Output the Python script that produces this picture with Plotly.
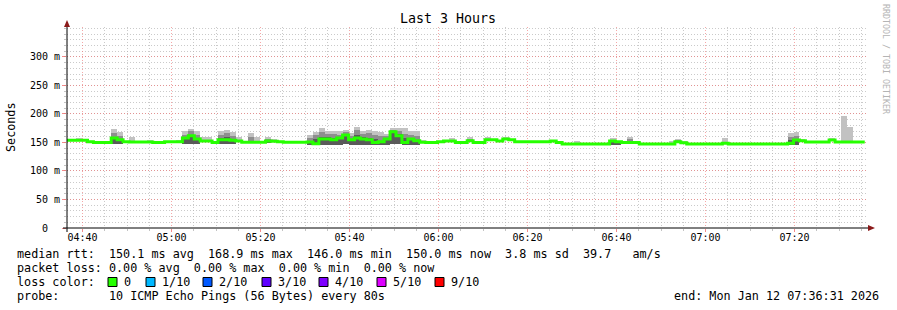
import pandas as pd
import plotly.graph_objects as go

# ---------------- data ----------------
start_time = "2026-01-12 04:36:31"
end_time = "2026-01-12 07:36:31"
step_seconds = 80

median_ms = [
    154, 154, 154, 154, 151.5, 150, 150, 150, 158, 155,
    151.5, 151, 151, 151, 151, 150, 150, 151.5, 151.5, 151.5,
    158, 162, 156, 152.6, 152.6, 150, 155, 155, 154, 152.6,
    150.3, 150.3, 150.3, 150.3, 152.6, 152, 151.5, 150.3, 150.3, 150.3,
    150.3, 151, 148, 156, 156, 155, 158, 163, 155, 158,
    156, 155, 150, 151.5, 156, 169, 162, 150, 156, 153,
    150.3, 150, 150, 151.5, 152.6, 152.6, 150, 150, 153, 150,
    150, 155, 155, 152.6, 156, 155, 151.5, 151.5, 151.5, 151.5,
    151.5, 151.5, 152.6, 150, 147.4, 147.4, 147.4, 147.4, 147.4, 147.4,
    147.4, 147.4, 152.6, 151.5, 150, 150, 150, 147.4, 147.4, 147.4,
    147.4, 147.4, 147.4, 151.5, 149.5, 147.4, 147.4, 147.4, 147.4, 147.4,
    147.4, 148.5, 147.4, 147.4, 147.4, 147.4, 147.4, 147.4, 147.4, 147.4,
    147.4, 147.4, 148.5, 154.4, 153, 151, 151, 151, 151, 154.4,
    151, 151, 151, 151, 151,
]

# light smoke top (max ping), per step index
smoke_max = {
    0: 156, 1: 157, 2: 158, 3: 156, 8: 174, 9: 168, 11: 160, 14: 155, 19: 153,
    20: 170, 21: 174, 22: 170, 23: 160, 24: 160, 26: 170, 27: 172, 28: 168,
    29: 160, 31: 167, 32: 160, 34: 160, 35: 156, 37: 152, 38: 152, 39: 152,
    40: 152, 41: 164, 42: 169, 43: 175, 44: 170, 45: 170, 46: 170, 47: 172,
    48: 166, 49: 178, 50: 170, 51: 172, 52: 170, 53: 168, 54: 165, 55: 176,
    56: 176, 57: 175, 58: 170, 59: 170, 60: 155, 64: 154, 65: 157.5, 68: 159,
    71: 159, 74: 159, 82: 154, 86: 152, 92: 158, 95: 160, 96: 153, 102: 152,
    103: 157, 104: 153, 111: 158, 122: 167, 123: 168, 124: 155, 129: 157,
    131: 197, 132: 178,
}
# medium smoke top (inner pings)
smoke_mid = {
    8: 167, 9: 162, 20: 164, 21: 170, 22: 164, 26: 164, 27: 166, 28: 162,
    31: 160, 34: 156, 41: 158, 42: 164, 43: 168, 44: 165, 45: 165, 46: 164,
    47: 168, 48: 161, 49: 172, 50: 165, 51: 166, 52: 164, 53: 162, 54: 161,
    55: 172, 56: 170, 57: 165, 58: 163, 59: 162, 65: 155, 68: 156, 74: 157.5,
    92: 155, 95: 156, 103: 155, 122: 160, 123: 162,
}
# dark smoke top (core pings)
smoke_dark = {
    8: 160, 20: 158, 21: 164, 26: 158, 27: 160, 42: 156, 43: 160, 44: 160,
    45: 158, 46: 158, 47: 164, 48: 157, 49: 164, 50: 160, 51: 158, 52: 156,
    55: 168, 56: 165, 57: 158, 58: 158, 92: 152, 122: 154, 123: 156,
}
# smoke bottom (min ping)
smoke_min = {
    8: 148, 9: 148, 20: 148, 21: 148, 22: 148, 26: 148, 27: 148, 28: 148,
    34: 149, 41: 146, 42: 145, 43: 146, 44: 146, 45: 146, 46: 146, 47: 147,
    48: 146, 49: 146, 50: 146, 51: 146, 52: 146, 53: 146, 54: 146, 55: 147,
    56: 147, 57: 146, 58: 146, 59: 146, 92: 146, 93: 146, 122: 145, 123: 146,
}

y_tick_values = [0, 50, 100, 150, 200, 250, 300]
y_tick_labels = ["0\u00a0\u00a0", "50 m", "100 m", "150 m", "200 m", "250 m", "300 m"]

title_text = "Last 3 Hours"
legend_lines = [
    "median rtt:  150.1 ms avg  168.9 ms max  146.0 ms min  150.0 ms now  3.8 ms sd  39.7   am/s",
    "packet loss: 0.00 % avg  0.00 % max  0.00 % min  0.00 % now",
    "loss color:",
    "probe:       10 ICMP Echo Pings (56 Bytes) every 80s",
]
loss_labels = ["0", "1/10", "2/10", "3/10", "4/10", "5/10", "9/10"]
loss_colors = ["#26ff00", "#00b8ff", "#0059ff", "#5e00ff", "#7e00ff", "#dd00ff", "#ff0000"]
end_text = "end: Mon Jan 12 07:36:31 2026"

# ---------------- build ----------------
MONO = "DejaVu Sans Mono"
L, R, T, B = 67, 868, 27, 228
YMAX = 352.6
TXT = 11.75

def px(x):
    return (x - L) / (R - L)

def py(y):
    return (B - y) / (B - T)

n = len(median_ms)
t0 = pd.Timestamp(start_time)
step = pd.Timedelta(seconds=step_seconds)
centers = [t0 + step * (k - 0.05) for k in range(n)]
edges = [c - step / 2 for c in centers] + [centers[-1] + step / 2]

hi = [smoke_max.get(k, median_ms[k]) for k in range(n)]
mid = [smoke_mid.get(k, median_ms[k]) for k in range(n)]
dark = [smoke_dark.get(k, median_ms[k]) for k in range(n)]
lo = [min(smoke_min.get(k, median_ms[k]), median_ms[k]) for k in range(n)]

fig = go.Figure()
for top, colr in ((hi, "#c2c2c2"), (mid, "#8e8e8e"), (dark, "#5a5a5a")):
    fig.add_trace(go.Bar(x=centers, y=[a - b for a, b in zip(top, lo)], base=lo,
                         width=step_seconds * 1000,
                         marker=dict(color=colr, line=dict(width=0)), hoverinfo="skip"))
fig.add_trace(go.Scatter(x=edges, y=median_ms + [median_ms[-1]], mode="lines",
                         line=dict(color="#26ff00", width=3, shape="hv"), hoverinfo="skip"))

fig.update_layout(
    width=897, height=310,
    margin=dict(l=L, r=897 - R, t=T, b=310 - B, pad=0),
    plot_bgcolor="white", paper_bgcolor="white",
    showlegend=False, barmode="overlay", bargap=0,
    font=dict(family=MONO, size=10, color="black"),
)
fig.update_xaxes(
    type="date", range=[pd.Timestamp(start_time), pd.Timestamp(end_time)],
    tickformat="%H:%M", tick0="2026-01-12 04:40:00", dtick=20 * 60 * 1000,
    showgrid=True, gridcolor="rgba(240,110,110,0.6)", griddash="1px,2px", gridwidth=1,
    ticks="outside", ticklen=3, tickcolor="rgba(240,110,110,0.8)",
    ticklabelstandoff=-3,
    tickfont=dict(family=MONO, size=10, color="black"),
    minor=dict(dtick=5 * 60 * 1000, tick0="2026-01-12 04:40:00", showgrid=True,
               gridcolor="rgba(180,180,180,0.7)", griddash="1px,2px",
               ticks="outside", ticklen=2, tickcolor="rgba(180,180,180,0.8)"),
    showline=False, zeroline=False, fixedrange=True,
)
fig.update_yaxes(
    range=[0, YMAX], tickvals=y_tick_values, ticktext=y_tick_labels,
    showgrid=True, gridcolor="rgba(240,110,110,0.6)", griddash="1px,2px",
    ticks="outside", ticklen=4, tickcolor="rgba(240,110,110,0.8)",
    tickfont=dict(family=MONO, size=10, color="black"),
    minor=dict(dtick=10, showgrid=True, gridcolor="rgba(180,180,180,0.7)", griddash="1px,2px",
               ticks="outside", ticklen=2, tickcolor="rgba(180,180,180,0.8)"),
    showline=False, zeroline=False, fixedrange=True,
)

shapes = [
    dict(type="line", xref="paper", yref="paper", x0=px(63), x1=px(870), y0=0, y1=0,
         line=dict(color="black", width=1), layer="above"),
    dict(type="line", xref="paper", yref="paper", x0=0, x1=0, y0=py(232), y1=py(24),
         line=dict(color="black", width=1), layer="above"),
    dict(type="path", xref="paper", yref="paper",
         path=f"M {px(868)} {py(225)} L {px(875)} {py(228)} L {px(868)} {py(231)} Z",
         fillcolor="#8b1a1a", line=dict(width=0), layer="above"),
    dict(type="path", xref="paper", yref="paper",
         path=f"M {px(64)} {py(27)} L {px(67)} {py(20)} L {px(70)} {py(27)} Z",
         fillcolor="#8b1a1a", line=dict(width=0), layer="above"),
]

annotations = [
    dict(text=title_text, x=px(448), y=py(19), xref="paper", yref="paper",
         showarrow=False, xanchor="center", yanchor="middle",
         font=dict(family=MONO, size=13.3, color="black")),
    dict(text="Seconds", x=px(11), y=py(127), xref="paper", yref="paper",
         showarrow=False, xanchor="center", yanchor="middle", textangle=-90,
         font=dict(family=MONO, size=TXT, color="black")),
    dict(text="RRDTOOL / TOBI OETIKER", x=px(886), y=py(59), xref="paper", yref="paper",
         showarrow=False, xanchor="center", yanchor="middle", textangle=90,
         font=dict(family=MONO, size=8.3, color="#b4b4b4")),
    dict(text=end_text.replace(" ", "\u00a0"), x=px(881), y=py(296), xref="paper", yref="paper",
         showarrow=False, xanchor="right", yanchor="middle",
         font=dict(family=MONO, size=TXT, color="black")),
]
line_y = [254, 268, 282, 296]
for txt, yy in zip(legend_lines, line_y):
    annotations.append(dict(text=txt.replace(" ", "\u00a0"), x=px(15), y=py(yy),
                            xref="paper", yref="paper", showarrow=False,
                            xanchor="left", yanchor="middle",
                            font=dict(family=MONO, size=TXT, color="black")))

box_x = [108, 146, 203, 262, 319, 377, 435]
for bx, lab, col in zip(box_x, loss_labels, loss_colors):
    shapes.append(dict(type="rect", xref="paper", yref="paper",
                       x0=px(bx), x1=px(bx + 9), y0=py(286.5), y1=py(277.5),
                       fillcolor=col, line=dict(color="black", width=1)))
    annotations.append(dict(text=lab, x=px(bx + 14), y=py(282), xref="paper", yref="paper",
                            showarrow=False, xanchor="left", yanchor="middle",
                            font=dict(family=MONO, size=TXT, color="black")))

fig.update_layout(shapes=shapes, annotations=annotations)
fig.write_html("out.html")
